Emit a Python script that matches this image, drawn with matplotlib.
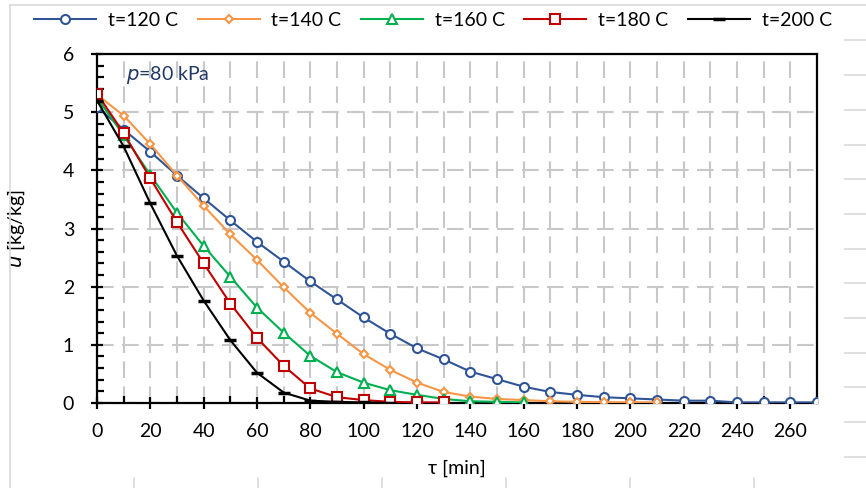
import matplotlib.pyplot as plt
from matplotlib.lines import Line2D
from matplotlib.ticker import MultipleLocator

plt.rcParams['font.family'] = ['Lato', 'DejaVu Sans']

# drying time [min]
tau_120 = list(range(0, 280, 10))
tau_140 = list(range(0, 220, 10))
tau_160 = list(range(0, 170, 10))
tau_180 = list(range(0, 140, 10))
tau_200 = list(range(0, 120, 10))

# moisture content u [kg/kg]
u_120 = [5.09, 4.70, 4.32, 3.91, 3.52, 3.14, 2.77, 2.43, 2.09, 1.78,
         1.47, 1.19, 0.94, 0.75, 0.54, 0.41, 0.28, 0.19, 0.14, 0.10,
         0.08, 0.06, 0.04, 0.04, 0.01, 0.01, 0.01, 0.01]
u_140 = [5.30, 4.94, 4.45, 3.91, 3.39, 2.90, 2.46, 1.99, 1.55, 1.19,
         0.84, 0.57, 0.35, 0.19, 0.11, 0.07, 0.05, 0.03, 0.02, 0.015,
         0.01, 0.01]
u_160 = [5.25, 4.60, 3.92, 3.27, 2.70, 2.17, 1.64, 1.21, 0.81, 0.53,
         0.35, 0.22, 0.14, 0.07, 0.03, 0.02, 0.01]
u_180 = [5.32, 4.64, 3.86, 3.11, 2.40, 1.71, 1.12, 0.64, 0.25, 0.10,
         0.05, 0.02, 0.01, 0.01]
u_200 = [5.20, 4.41, 3.43, 2.53, 1.76, 1.08, 0.52, 0.18, 0.04, 0.02,
         0.01, 0.0]

labels = ['t=120 C', 't=140 C', 't=160 C', 't=180 C', 't=200 C']

fig = plt.figure(figsize=(8.66, 4.88), dpi=100)
ax = fig.add_axes([97/866, 1-403/488, 720/866, 349/488])

ax.plot(tau_120, u_120, color='#2F5597', lw=1.5, marker='o', ms=6.5,
        mfc='white', mew=1.5, label=labels[0], zorder=3)
ax.plot(tau_140, u_140, color='#F79646', lw=1.5, marker='D', ms=4.5,
        mfc='white', mew=1.5, label=labels[1], zorder=3)
ax.plot(tau_160, u_160, color='#00B050', lw=1.5, marker='^', ms=6.5,
        mfc='white', mew=1.5, label=labels[2], zorder=3)
ax.plot(tau_180, u_180, color='#C00000', lw=1.5, marker='s', ms=7,
        mfc='white', mew=1.5, label=labels[3], zorder=3)
ax.plot(tau_200, u_200, color='black', lw=1.5, marker='_', ms=8,
        mew=2.5, label=labels[4], zorder=3)

ax.set_xlim(0, 270)
ax.set_ylim(0, 6)
ax.xaxis.set_major_locator(MultipleLocator(20))
ax.xaxis.set_minor_locator(MultipleLocator(10))
ax.yaxis.set_major_locator(MultipleLocator(1))
ax.yaxis.set_minor_locator(MultipleLocator(0.2))
ax.set_xticks(range(0, 261, 20))

ax.grid(True, which='both', axis='x', color='#C8C8C8', lw=1.5, ls=(0, (8, 4)))
ax.grid(True, which='major', axis='y', color='#C8C8C8', lw=1.5, ls=(0, (8, 4)))
ax.set_axisbelow(True)

for s in ax.spines.values():
    s.set_linewidth(1.6)
    s.set_color('black')

ax.tick_params(which='major', direction='inout', length=9, width=1.6,
               labelsize=14, pad=10)
ax.tick_params(axis='y', which='major', pad=12)
ax.tick_params(which='minor', direction='in', length=5, width=1.6)
ax.tick_params(axis='x', which='minor', top=False)
ax.tick_params(axis='y', which='minor', right=False)

ax.set_xlabel('τ [min]', fontsize=14, labelpad=14)
ax.set_ylabel('$u$ [kg/kg]', fontsize=14, labelpad=26)
ax.text(11, 5.55, '$p$=80 kPa', color='#1F3864', fontsize=14)

fig.legend(loc='center', bbox_to_anchor=(433/866, 1-20/488), ncol=5,
           frameon=False, fontsize=14, handlelength=3.2,
           columnspacing=1.0, handletextpad=0.6)

# spreadsheet cell lines around the chart
def fline(x0, y0, x1, y1):
    fig.add_artist(Line2D([x0/866, x1/866], [1-y0/488, 1-y1/488],
                          color='#D9D9D9', lw=1.2))

fline(10, 5, 10, 488)
fline(10, 5, 866, 5)
for yy in [40, 75, 110, 145, 179, 214, 249, 283, 318, 353, 387, 422, 457]:
    fline(845, yy, 866, yy)
for xx in [134, 258, 382, 506, 630, 754]:
    fline(xx, 478, xx, 488)

fig.savefig('out.png', dpi=100)
